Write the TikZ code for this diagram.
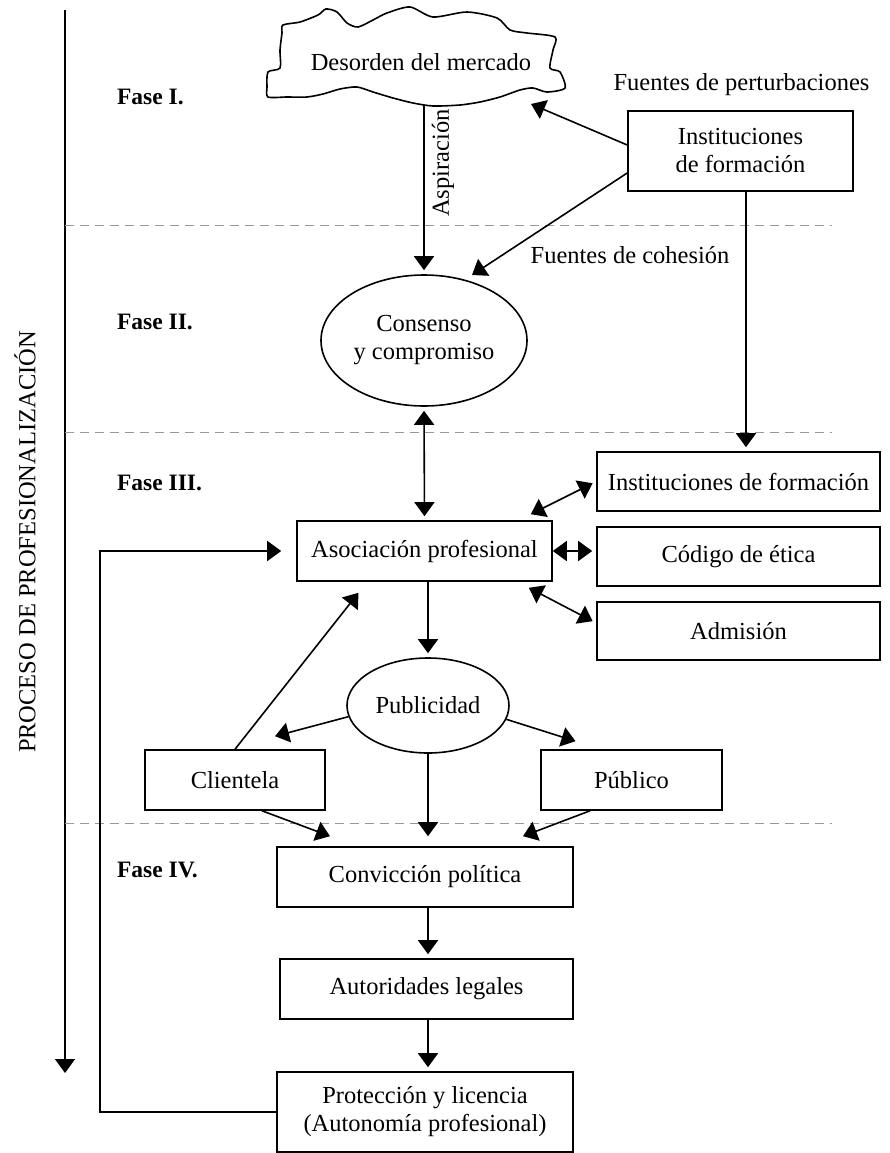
\documentclass[tikz,border=0pt]{standalone}
\usepackage{fontspec}
\setmainfont{Liberation Serif}
\usepackage{tikz}
\usetikzlibrary{arrows.meta,positioning}
\usetikzlibrary{shapes.geometric}

\begin{document}
\begin{tikzpicture}[x=1pt,y=-1pt,line width=1.6pt,
    every node/.style={font=\fontsize{24.5}{28}\selectfont,align=center},
    box/.style={draw,rectangle,inner sep=0pt},
    oval/.style={draw,ellipse,inner sep=0pt},
    arr/.style={-{Triangle[length=14pt,width=20pt]},shorten >=4pt},
    dbl/.style={{Triangle[length=14pt,width=20pt]}-{Triangle[length=14pt,width=20pt]},shorten >=4pt,shorten <=4pt},
    sep/.style={dash pattern=on 9pt off 6pt,gray!80,line width=1pt},
    fase/.style={anchor=west,font=\fontsize{23.5}{28}\selectfont\bfseries}]%
    \useasboundingbox (0,0) rectangle (890,1153);
    % fases
    \coordinate (axtop) at (65,10);
    \coordinate (axbot) at (65,1073);
    \draw[arr,shorten >=0pt] (axtop) -- (axbot); %%
    \node[rotate=90] (proc) at (25,542) {PROCESO DE PROFESIONALIZACIÓN}; %%
    \draw[sep] (65,225) -- (832,225); %%
    \draw[sep] (65,432) -- (832,432); %%
    \draw[sep] (65,823) -- (832,823); %%
    \node[fase] (f1) at (113,97) {Fase I.}; %%
    \node[fase] (f2) at (113,322) {Fase II.}; %%
    \node[fase] (f3) at (113,483) {Fase III.}; %%
    \node[fase] (f4) at (113,870) {Fase IV.}; %%
    % nube
    \draw plot[smooth cycle,tension=0.45] coordinates {(283,25) (300,22) (318,15) (326,9)
        (337,12) (347,23) (358,27) (373,20) (387,13) (410,7) (433,17) (467,12) (497,18)
        (510,30) (527,33) (555,37) (553,50) (550,68) (560,72) (565,88) (547,92) (533,88)
        (520,90) (500,97) (480,102) (460,105) (433,106) (413,103) (393,98) (373,92)
        (357,87) (340,89) (323,94) (307,97) (287,97) (268,97) (267,87) (268,72) (280,68)
        (280,50) (282,33)};
    \node (des) at (421,62) {Desorden del mercado}; %%
    \coordinate (cbot) at (424,105);
    \coordinate (cder) at (531,104);
    \coordinate (ctip) at (472,275);
    \node[rotate=90] (asp) at (443,163) {Aspiración}; %%
    \node (ppt) at (741.5,85) {Fuentes de perturbaciones}; %%
    \node[box,minimum width=225pt,minimum height=80pt] (ins1) at (740.5,151) {Instituciones\\de formación}; %%
    \node (coh) at (630,255) {Fuentes de cohesión}; %%
    \node[oval,minimum width=206pt,minimum height=131pt] (cons) at (424,340.5) {Consenso\\y compromiso}; %%
    \node[box,minimum width=255pt,minimum height=60pt] (asoc) at (424.5,551) {Asociación profesional}; %%
    \node[box,minimum width=283pt,minimum height=59pt] (ins2) at (738.5,481.5) {Instituciones de formación}; %%
    \node[box,minimum width=283pt,minimum height=59pt] (cod) at (738.5,556.5) {Código de ética}; %%
    \node[box,minimum width=283pt,minimum height=58pt] (adm) at (738.5,631) {Admisión}; %%
    \node[oval,minimum width=162pt,minimum height=95pt] (pub) at (428,705.5) {Publicidad}; %%
    \node[box,minimum width=180pt,minimum height=60pt] (cli) at (235,780) {Clientela}; %%
    \node[box,minimum width=181pt,minimum height=60pt] (pco) at (631.5,780) {Público}; %%
    \node[box,minimum width=296pt,minimum height=60pt] (conv) at (425,877) {Convicción política}; %%
    \node[box,minimum width=293pt,minimum height=60pt] (aut) at (426.5,989) {Autoridades legales}; %%
    \node[box,minimum width=296pt,minimum height=80pt] (prot) at (425,1112) {Protección y licencia\\(Autonomía profesional)}; %%
    \coordinate (fb) at (100,1112);
    % flechas
    \draw[arr] (cbot) -- (cons.north); %%
    \draw[arr,shorten >=0pt] ([yshift=6pt]ins1.west) -- (cder); %%
    \draw[arr,shorten >=0pt] ([yshift=-22pt]ins1.west) -- (ctip); %%
    \draw[arr] ([xshift=5.5pt]ins1.south) -- ([xshift=5.5pt]ins1.south |- ins2.north); %%
    \draw[dbl] (cons.south) -- (asoc.north); %%
    \draw[dbl,shorten <=0pt] ([shift={(-22,-6)}]asoc.north east) -- (ins2.west); %%
    \draw[dbl,shorten <=0pt] (asoc.east) -- (asoc.east -| cod.west); %%
    \draw[dbl,shorten <=0pt] ([shift={(-24,6)}]asoc.south east) -- ([yshift=8pt]adm.west); %%
    \draw[arr] (pub.north |- asoc.south) -- (pub.north); %%
    \draw[arr,shorten >=0pt] (cli.north) -- ([shift={(-66,11)}]asoc.south); %%
    \draw[arr,shorten >=0pt] (pub.188) -- ([shift={(40,-13)}]cli.north); %%
    \draw[arr,shorten >=0pt] (pub.-10) -- ([shift={(-56,-8)}]pco.north); %%
    \draw[arr,shorten >=10pt] (pub.south) -- (pub.south |- conv.north); %%
    \draw[arr,shorten >=0pt] ([xshift=27pt]cli.south) -- ([shift={(-95,-10)}]conv.north); %%
    \draw[arr,shorten >=0pt] ([xshift=-41.5pt]pco.south) -- ([shift={(98,-10)}]conv.north); %%
    \draw[arr] (conv.south -| pub.south) -- (aut.north -| pub.south); %%
    \draw[arr] (aut.south -| pub.south) -- (prot.north -| pub.south); %%
    \draw[arr,shorten >=15pt] (prot.west) -- (fb) |- (asoc.west); %%
\end{tikzpicture}
\end{document}
